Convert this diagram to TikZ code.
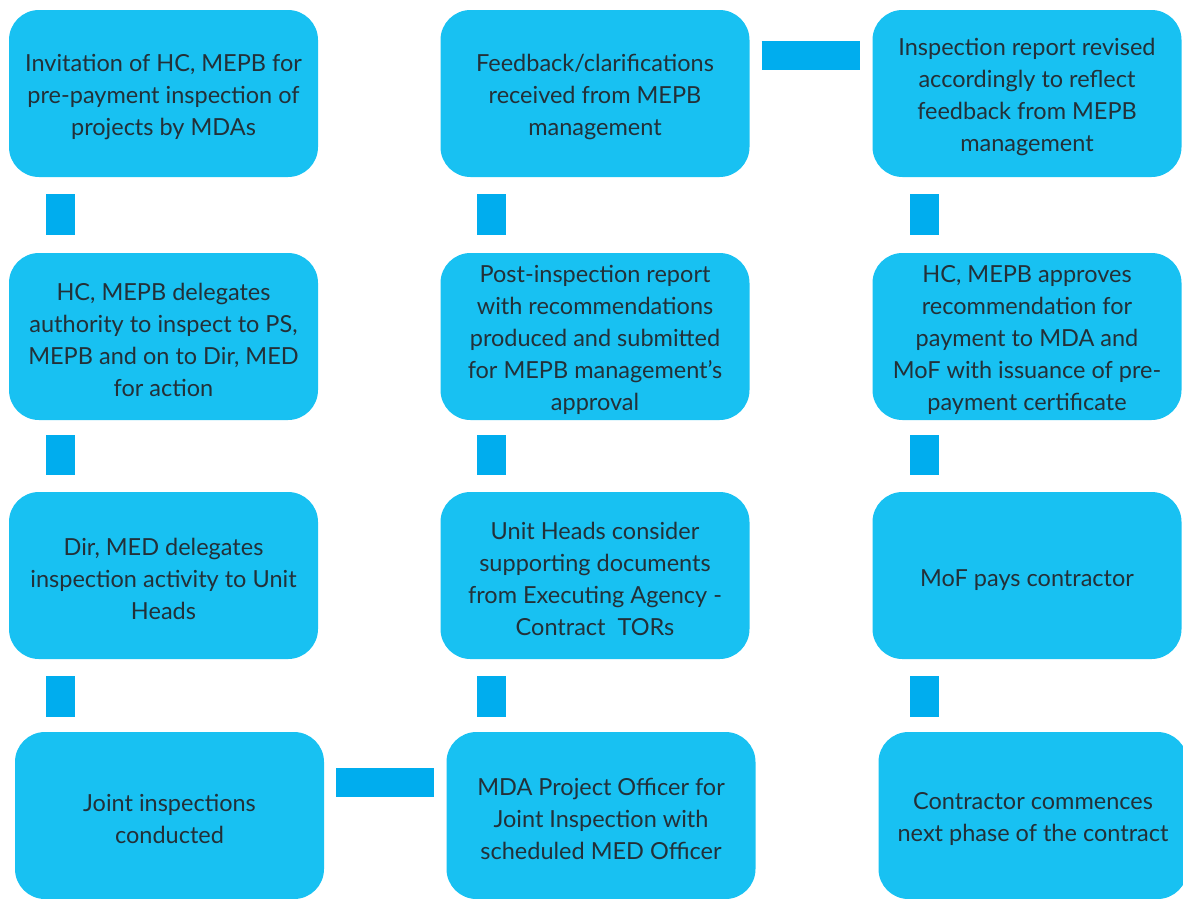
\documentclass[tikz,border=0pt]{standalone}
\usepackage{fontspec}
\setmainfont{Lato}
\usetikzlibrary{calc}
\definecolor{boxfill}{RGB}{24,193,242}
\definecolor{barcol}{RGB}{0,173,238}
\definecolor{txt}{RGB}{35,48,56}
\newcommand\toppad{\rule{0pt}{24pt}}
\tikzset{
  stepbox/.style={fill=boxfill, draw=none, rounded corners=30pt, minimum width=309pt, minimum height=167pt, inner sep=0pt, align=center, text=txt, font=\fontsize{23.5}{32}\selectfont},
  bar/.style={draw=barcol, line width=29pt}
}
\begin{document}
\begin{tikzpicture}[x=1pt,y=-1pt]
\useasboundingbox (0,0) rectangle (1183,898);
\clip (0,0) rectangle (1183,898);
% column 1
\node[stepbox] (b1) at (163.5,93.5) {\toppad Invitation of HC, MEPB for\\pre-payment inspection of\\projects by MDAs};
\node[stepbox] (b2) at (163.5,336.5) {\toppad HC, MEPB delegates\\authority to inspect to PS,\\MEPB and on to Dir, MED\\for action};
\node[stepbox] (b3) at (163.5,575.5) {\toppad Dir, MED delegates\\inspection activity to Unit\\Heads};
\node[stepbox] (b4) at (169.5,815.5) {\toppad Joint inspections\\conducted};
% column 2
\node[stepbox] (b5) at (601,815.5) {\toppad MDA Project Officer for\\Joint Inspection with\\scheduled MED Officer};
\node[stepbox] (b6) at (595,575.5) {\toppad Unit Heads consider\\supporting documents\\from Executing Agency -\\Contract\ \ TORs};
\node[stepbox] (b7) at (595,336.5) {\toppad Post-inspection report\\with recommendations\\produced and submitted\\for MEPB management’s\\approval};
\node[stepbox] (b8) at (595,93.5) {\toppad Feedback/clarifications\\received from MEPB\\management};
% column 3
\node[stepbox] (b9) at (1027,93.5) {\toppad Inspection report revised\\accordingly to reflect\\feedback from MEPB\\management};
\node[stepbox] (b10) at (1027,336.5) {\toppad HC, MEPB approves\\recommendation for\\payment to MDA and\\MoF with issuance of pre-\\payment certificate};
\node[stepbox] (b11) at (1027,575.5) {\rule{0pt}{26pt}MoF pays contractor};
\node[stepbox] (b12) at (1033,815.5) {\toppad Contractor commences\\next phase of the contract};
% connectors
\draw[bar] ($(b1.south west)+(51.5,17)$) -- ($(b2.north west)+(51.5,-18)$);
\draw[bar] ($(b2.south west)+(51.5,15)$) -- ($(b3.north west)+(51.5,-17)$);
\draw[bar] ($(b3.south west)+(51.5,17)$) -- ($(b4.north west)+(45.5,-15)$);
\draw[bar] ($(b4.north east)+(12,50.5)$) -- ($(b5.north west)+(-12,50.5)$);
\draw[bar] ($(b5.north west)+(45.5,-15)$) -- ($(b6.south west)+(51.5,17)$);
\draw[bar] ($(b6.north west)+(51.5,-17)$) -- ($(b7.south west)+(51.5,15)$);
\draw[bar] ($(b7.north west)+(51.5,-18)$) -- ($(b8.south west)+(51.5,17)$);
\draw[bar] ($(b8.north east)+(12,45.5)$) -- ($(b9.north west)+(-12,45.5)$);
\draw[bar] ($(b9.south west)+(52.5,17)$) -- ($(b10.north west)+(52.5,-18)$);
\draw[bar] ($(b10.south west)+(52.5,15)$) -- ($(b11.north west)+(52.5,-17)$);
\draw[bar] ($(b11.south west)+(52.5,17)$) -- ($(b12.north west)+(46.5,-15)$);
\end{tikzpicture}
\end{document}
